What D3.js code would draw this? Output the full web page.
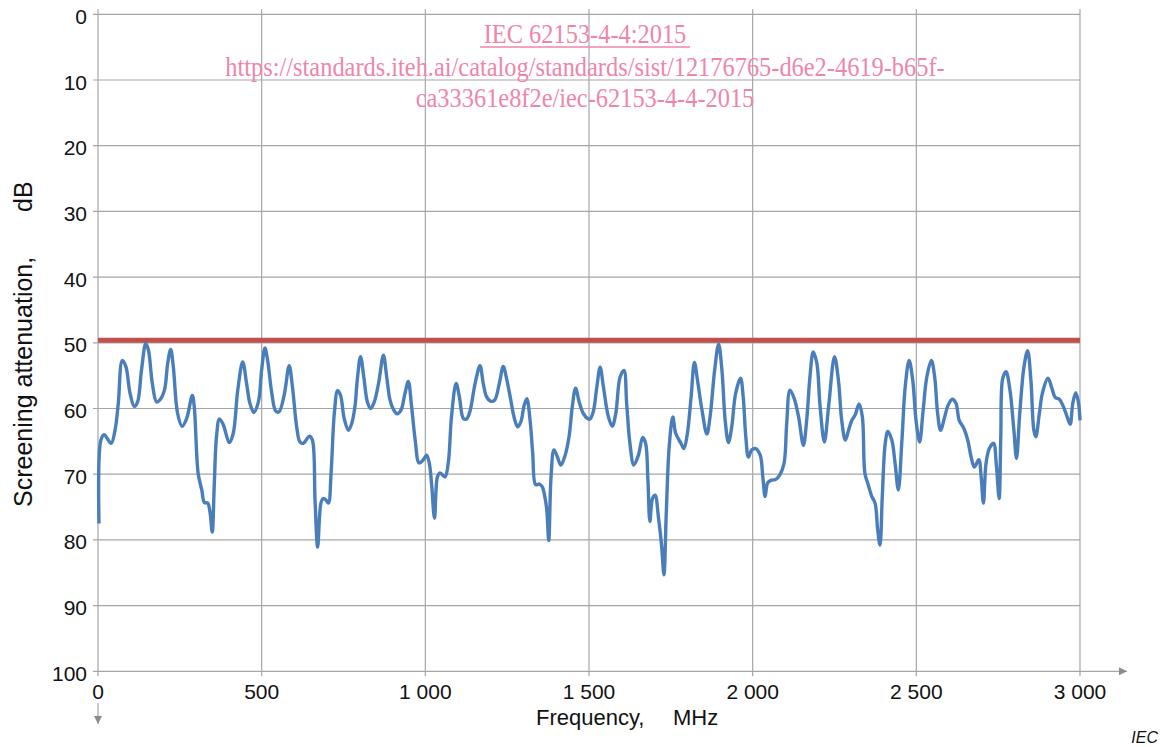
<!DOCTYPE html>
<html>
<head>
    <meta charset="utf-8">
    <title>Screening attenuation</title>
    <script src="https://cdn.jsdelivr.net/npm/d3@7"></script>
    <style>
        body {
            margin: 0;
            background: white;
        }
        .tick-label {
            font-family: "Liberation Sans", Arial, sans-serif;
            font-size: 21px;
            fill: #111;
        }
        .axis-title {
            font-family: "Liberation Sans", Arial, sans-serif;
            fill: #111;
        }
        .watermark {
            font-family: "Liberation Serif", "Times New Roman", serif;
            font-size: 24.4px;
            fill: #ef85a9;
        }
    </style>
</head>
<body>
<div id="chart"></div>
<script>
    const freq = [3, 9, 19, 40, 52, 62, 74, 85, 98, 111, 121, 133, 146, 154, 166, 179, 189, 203, 213, 222,
        230, 243, 257, 271, 288, 294, 306, 317, 325, 335, 342, 349, 355, 362, 371, 383, 401, 413, 427, 442,
        454, 464, 476, 490, 500, 510, 518, 531, 543, 553, 569, 584, 594, 607, 617, 627, 646, 655, 663, 671,
        681, 688, 696, 704, 712, 722, 732, 741, 752, 765, 775, 785, 792, 802, 812, 823, 833, 844, 857, 872,
        882, 892, 902, 914, 926, 937, 948, 958, 969, 981, 994, 1004, 1012, 1019, 1028, 1037, 1045, 1060, 1070, 1080,
        1094, 1104, 1116, 1126, 1136, 1152, 1167, 1177, 1187, 1200, 1212, 1226, 1238, 1248, 1261, 1271, 1282, 1292, 1302, 1310,
        1320, 1328, 1337, 1348, 1357, 1365, 1371, 1377, 1384, 1393, 1403, 1414, 1426, 1439, 1449, 1459, 1470, 1483, 1498, 1503,
        1513, 1524, 1534, 1544, 1559, 1571, 1582, 1595, 1607, 1615, 1625, 1637, 1651, 1664, 1673, 1680, 1686, 1694, 1702, 1712,
        1722, 1729, 1736, 1745, 1756, 1765, 1781, 1790, 1800, 1812, 1822, 1832, 1845, 1860, 1870, 1884, 1896, 1906, 1916, 1926,
        1936, 1948, 1963, 1971, 1979, 1987, 1997, 2009, 2023, 2031, 2038, 2046, 2058, 2070, 2083, 2096, 2104, 2114, 2127, 2140,
        2155, 2165, 2175, 2185, 2196, 2206, 2219, 2232, 2250, 2262, 2272, 2283, 2293, 2303, 2313, 2325, 2335, 2343, 2353, 2364,
        2374, 2382, 2389, 2396, 2405, 2413, 2425, 2435, 2445, 2456, 2466, 2478, 2489, 2499, 2510, 2520, 2532, 2546, 2556, 2565,
        2574, 2587, 2597, 2610, 2621, 2631, 2645, 2657, 2667, 2677, 2691, 2698, 2705, 2713, 2723, 2736, 2744, 2753, 2758, 2764,
        2774, 2786, 2798, 2806, 2816, 2829, 2840, 2850, 2859, 2865, 2876, 2885, 2902, 2914, 2924, 2937, 2949, 2961, 2970, 2978,
        2987, 2995, 3000];
    const atten = [77.5, 64.8, 64.0, 65.3, 63.3, 59.2, 52.7, 53.6, 57.7, 59.7, 59.0, 54.1, 50.1, 51.1, 56.2, 59.0, 58.7, 57.2, 53.1, 51.0,
        53.6, 60.7, 62.7, 61.5, 58.0, 59.7, 69.9, 72.4, 74.3, 74.4, 75.7, 78.8, 71.9, 64.3, 61.6, 62.5, 65.2, 63.8, 57.2, 52.9,
        56.2, 59.2, 60.6, 59.0, 54.1, 50.8, 52.6, 57.7, 60.4, 60.5, 57.9, 53.5, 56.7, 62.8, 65.1, 65.3, 64.2, 64.8, 73.9, 81.1,
        74.4, 73.7, 73.9, 74.4, 69.9, 60.7, 57.3, 58.0, 61.5, 63.3, 62.3, 59.7, 55.7, 52.1, 55.2, 59.0, 60.0, 59.0, 56.2, 51.9,
        55.2, 58.7, 60.1, 60.8, 60.2, 57.9, 55.9, 59.7, 64.8, 68.3, 67.8, 67.1, 68.3, 71.4, 76.7, 70.4, 69.8, 70.4, 68.3, 61.2,
        56.2, 58.2, 61.5, 61.6, 60.5, 56.2, 53.5, 56.2, 58.2, 58.9, 58.7, 56.2, 53.6, 55.4, 58.7, 61.3, 62.8, 62.0, 59.5, 58.5,
        61.8, 66.8, 71.6, 71.5, 71.9, 73.4, 75.4, 80.1, 70.4, 66.3, 67.3, 68.6, 67.3, 64.3, 59.7, 56.9, 59.0, 60.8, 61.6, 61.6,
        60.5, 56.7, 53.7, 56.7, 61.2, 62.7, 60.7, 55.2, 54.2, 59.2, 65.3, 68.6, 67.1, 64.4, 65.3, 70.9, 77.2, 73.7, 73.2, 76.5,
        81.0, 85.3, 76.0, 65.8, 61.3, 63.8, 65.3, 66.1, 64.0, 58.2, 53.0, 55.9, 60.2, 63.9, 61.2, 54.1, 50.2, 54.1, 61.8, 65.2,
        62.8, 57.7, 55.4, 58.2, 64.3, 67.4, 66.3, 66.1, 67.1, 70.4, 73.4, 71.3, 70.9, 70.8, 70.1, 68.3, 62.3, 57.2, 58.5, 61.2,
        65.6, 61.8, 55.2, 51.4, 53.1, 59.7, 65.1, 59.7, 52.1, 55.7, 61.8, 64.8, 63.3, 61.8, 61.0, 59.3, 61.2, 69.9, 71.6, 73.4,
        74.4, 78.5, 80.8, 73.4, 65.3, 63.5, 64.8, 68.3, 72.4, 64.8, 56.7, 52.7, 55.7, 61.8, 65.1, 60.7, 55.2, 52.7, 55.2, 60.7,
        63.3, 61.2, 59.5, 58.6, 59.2, 61.8, 63.0, 64.8, 67.3, 68.9, 67.8, 70.4, 74.4, 68.3, 66.1, 65.3, 68.3, 73.7, 64.3, 55.4,
        54.4, 57.2, 63.3, 67.6, 60.7, 53.6, 51.2, 55.7, 63.3, 64.3, 60.7, 57.7, 55.4, 56.9, 58.3, 58.6, 59.7, 61.3, 62.4, 59.2,
        57.6, 59.0, 61.8];

    // Limit line
    const limitValue = 49.6;

    // Axis ticks
    const xTicks = [0, 500, 1000, 1500, 2000, 2500, 3000];
    const xTickLabels = ["0", "500", "1 000", "1 500", "2 000", "2 500", "3 000"];
    const yTicks = [0, 10, 20, 30, 40, 50, 60, 70, 80, 90, 100];

    const watermarkLines = [
        "IEC 62153-4-4:2015",
        "https://standards.iteh.ai/catalog/standards/sist/12176765-d6e2-4619-b65f-",
        "ca33361e8f2e/iec-62153-4-4-2015"
    ];

    const W = 1162, H = 747;
    const plotLeft = 98, plotRight = 1080, plotTop = 14.3, plotBottom = 671.3;
    const gridColor = "#a6a6a6";

    const svg = d3.select("#chart")
        .append("svg")
        .attr("width", W)
        .attr("height", H);

    const x = d3.scaleLinear().domain([0, 3000]).range([plotLeft, plotRight]);
    const y = d3.scaleLinear().domain([0, 100]).range([plotTop, plotBottom]);

    // Grid lines
    svg.append("g")
        .selectAll("line")
        .data(yTicks)
        .join("line")
        .attr("x1", plotLeft - 5)
        .attr("x2", plotRight)
        .attr("y1", d => y(d))
        .attr("y2", d => y(d))
        .attr("stroke", gridColor)
        .attr("stroke-width", 1.2);

    svg.append("g")
        .selectAll("line")
        .data(xTicks)
        .join("line")
        .attr("x1", d => x(d))
        .attr("x2", d => x(d))
        .attr("y1", plotTop - 5)
        .attr("y2", plotBottom + 5)
        .attr("stroke", gridColor)
        .attr("stroke-width", 1.2);

    // Arrow markers
    const defs = svg.append("defs");
    defs.append("marker")
        .attr("id", "arrow")
        .attr("viewBox", "0 0 10 10")
        .attr("refX", 10)
        .attr("refY", 5)
        .attr("markerWidth", 12)
        .attr("markerHeight", 8)
        .attr("markerUnits", "userSpaceOnUse")
        .attr("orient", "auto")
        .append("path")
        .attr("d", "M0,0 L10,5 L0,10 z")
        .attr("fill", "#8c8c8c");

    // x axis arrow
    svg.append("line")
        .attr("x1", plotRight)
        .attr("x2", 1127)
        .attr("y1", plotBottom)
        .attr("y2", plotBottom)
        .attr("stroke", gridColor)
        .attr("stroke-width", 1.2)
        .attr("marker-end", "url(#arrow)");

    // y axis arrow (down)
    svg.append("line")
        .attr("x1", plotLeft)
        .attr("x2", plotLeft)
        .attr("y1", 703)
        .attr("y2", 724)
        .attr("stroke", gridColor)
        .attr("stroke-width", 1.2)
        .attr("marker-end", "url(#arrow)");

    // Tick labels
    svg.append("g")
        .selectAll("text")
        .data(yTicks)
        .join("text")
        .attr("class", "tick-label")
        .attr("x", 87)
        .attr("y", d => y(d) + 9.5)
        .attr("text-anchor", "end")
        .text(d => d);

    svg.append("g")
        .selectAll("text")
        .data(xTicks)
        .join("text")
        .attr("class", "tick-label")
        .attr("x", d => x(d))
        .attr("y", 699)
        .attr("text-anchor", "middle")
        .text((d, i) => xTickLabels[i]);

    // Axis titles
    const xTitle = svg.append("text")
        .attr("class", "axis-title")
        .attr("y", 725)
        .style("font-size", "22px");
    xTitle.append("tspan").attr("x", 536).text("Frequency,");
    xTitle.append("tspan").attr("x", 673).text("MHz");

    const yTitle = svg.append("text")
        .attr("class", "axis-title")
        .attr("transform", "translate(32,0) rotate(-90)")
        .style("font-size", "25px");
    yTitle.append("tspan").attr("x", -507).text("Screening attenuation,");
    yTitle.append("tspan").attr("x", -212).text("dB");

    svg.append("text")
        .attr("x", 1158)
        .attr("y", 743)
        .attr("text-anchor", "end")
        .style("font-family", "'Liberation Sans', Arial, sans-serif")
        .style("font-size", "16px")
        .style("font-style", "italic")
        .attr("fill", "#111")
        .text("IEC");

    // Watermark
    const wmBaselines = [43, 75.5, 107];
    const wm = svg.append("g");
    wm.selectAll("text")
        .data(watermarkLines)
        .join("text")
        .attr("class", "watermark")
        .attr("transform", (d, i) => `translate(585,${wmBaselines[i]}) scale(1,1.15)`)
        .attr("text-anchor", "middle")
        .text(d => d);
    wm.append("line")
        .attr("x1", 480)
        .attr("x2", 690)
        .attr("y1", 47)
        .attr("y2", 47)
        .attr("stroke", "#ef85a9")
        .attr("stroke-width", 1.3);

    // Limit line
    svg.append("line")
        .attr("x1", x(0))
        .attr("x2", x(3000))
        .attr("y1", y(limitValue))
        .attr("y2", y(limitValue))
        .attr("stroke", "#c0504d")
        .attr("stroke-width", 5);

    // Measured curve
    const pts = freq.map((f, i) => [f, atten[i]]);
    const line = d3.line()
        .x(d => x(d[0]))
        .y(d => y(d[1]))
        .curve(d3.curveCatmullRom.alpha(0.5));

    svg.append("path")
        .datum(pts)
        .attr("d", line)
        .attr("fill", "none")
        .attr("stroke", "#4a7ebb")
        .attr("stroke-width", 3.4)
        .attr("stroke-linejoin", "round");
</script>
</body>
</html>
